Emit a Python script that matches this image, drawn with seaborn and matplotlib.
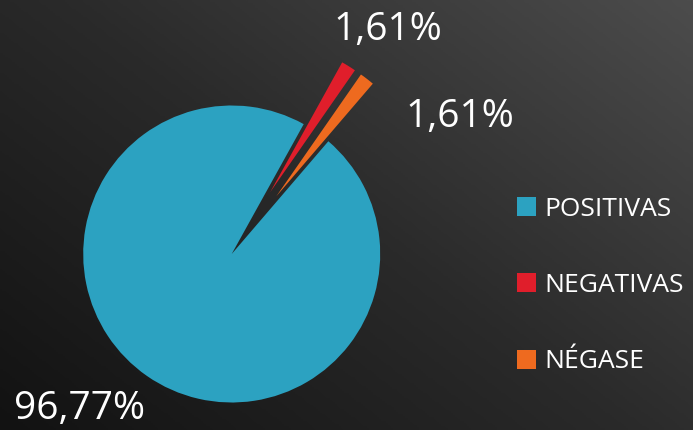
import numpy as np
import matplotlib
matplotlib.use("Agg")
import matplotlib.pyplot as plt
import seaborn as sns
from matplotlib.colors import LinearSegmentedColormap

categories = ["POSITIVAS", "NEGATIVAS", "NÉGASE"]
values = [96.77, 1.61, 1.61]
label_texts = ["96,77%", "1,61%", "1,61%"]
explode = [0.0, 0.49, 0.49]

sns.set_theme(style="white")
plt.rcParams['font.family'] = ['Open Sans', 'DejaVu Sans']
colors = sns.color_palette(["#2CA2C1", "#E01E2B", "#EE6A1F"])

W, H = 693, 430
fig = plt.figure(figsize=(W / 100, H / 100), dpi=100)

# background gradient
bg = fig.add_axes([0, 0, 1, 1], zorder=0)
xx, yy = np.meshgrid(np.linspace(0, 1, 300), np.linspace(0, 1, 200))
grad = (xx * 0.55 + yy * 0.45)
cmap = LinearSegmentedColormap.from_list("bg", ["#121212", "#2a2a2a", "#4c4c4c"])
bg.imshow(grad, cmap=cmap, origin="lower", aspect="auto", extent=[0, 1, 0, 1])
bg.set_axis_off()

ax = fig.add_axes([0, 0, 1, 1], zorder=1)
ax.patch.set_alpha(0)
R = 148.5
cx, cy = 231.7, 430 - 254
wedges, _ = ax.pie(values, colors=colors, explode=explode, startangle=49.4,
                   counterclock=False, radius=1.0,
                   wedgeprops=dict(linewidth=0))
ax.set_xlim(-cx / R, (W - cx) / R)
ax.set_ylim(-cy / R, (H - cy) / R)
ax.set_aspect("equal")
ax.set_axis_off()

fs = 28
fig.text(79 / W, 1 - 409 / H, label_texts[0], color="white", fontsize=fs,
         ha="center", va="center")
fig.text(388 / W, 1 - 30 / H, label_texts[1], color="white", fontsize=fs,
         ha="center", va="center")
fig.text(460 / W, 1 - 117 / H, label_texts[2], color="white", fontsize=fs,
         ha="center", va="center")

leg = ax.legend(wedges, categories, loc="upper left",
                bbox_to_anchor=(506 / W, 1 - 186 / H), bbox_transform=fig.transFigure,
                frameon=False, handlelength=0.72, handleheight=0.72,
                handletextpad=0.32, labelspacing=1.95, borderaxespad=0,
                prop=dict(size=19))
for t in leg.get_texts():
    t.set_color("white")

fig.savefig("out.png", dpi=100)
